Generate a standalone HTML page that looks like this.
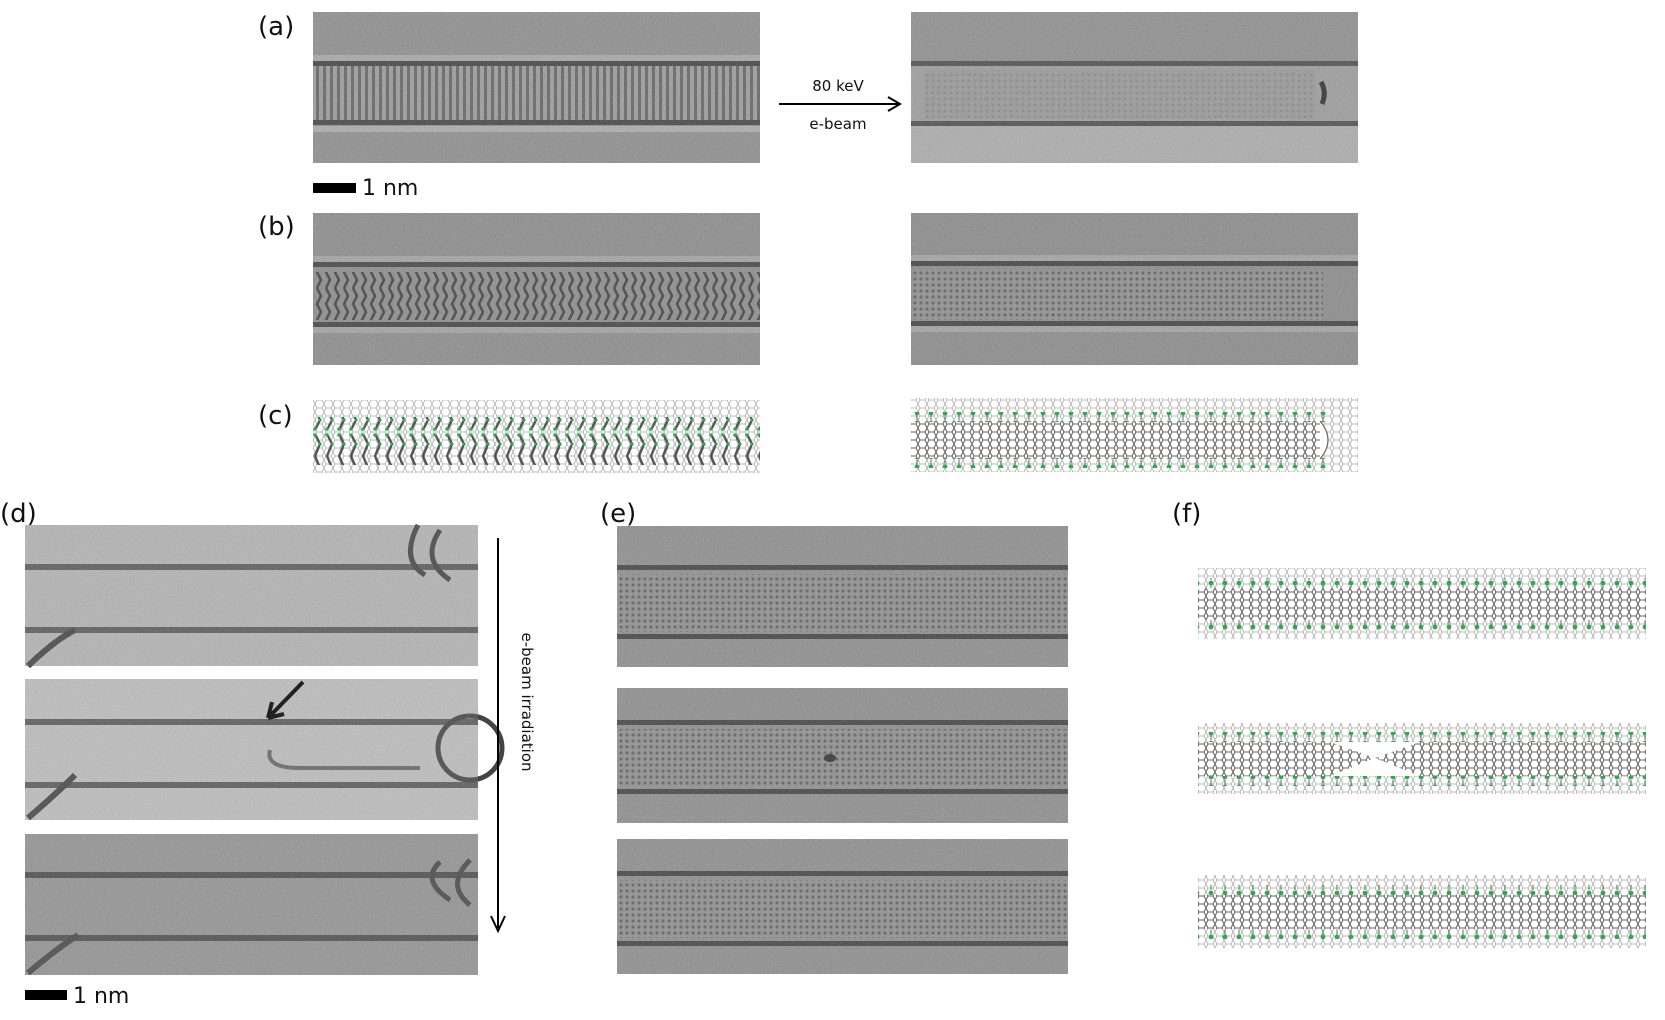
<!DOCTYPE html>
<html><head><meta charset="utf-8"><style>
html,body{margin:0;padding:0;background:#fff;width:1665px;height:1020px;overflow:hidden}
svg{display:block}
text{font-family:"DejaVu Sans","Liberation Sans",sans-serif;fill:#111}
</style></head><body>
<svg width="1665" height="1020" viewBox="0 0 1665 1020" xmlns="http://www.w3.org/2000/svg">
<defs>
<filter id="nz" x="0" y="0" width="100%" height="100%">
<feTurbulence type="fractalNoise" baseFrequency="0.9" numOctaves="2" seed="4"/>
<feColorMatrix type="matrix" values="1 0 0 0 0  1 0 0 0 0  1 0 0 0 0  0 0 0 0 1"/>
</filter>
<pattern id="vs" width="7" height="60" patternUnits="userSpaceOnUse"><rect width="7" height="60" fill="#9a9a9a"/><rect x="1" width="3" height="60" fill="#5e5e5e"/></pattern>
<pattern id="zz" width="9" height="48" patternUnits="userSpaceOnUse"><rect width="9" height="48" fill="#8a8a8a"/><path d="M2 0 L6 8 L2 16 L6 24 L2 32 L6 40 L2 48" stroke="#3a3a3a" stroke-width="2.6" fill="none"/></pattern>
<pattern id="lat" width="6" height="6" patternUnits="userSpaceOnUse"><rect width="6" height="6" fill="#8e8e8e"/><circle cx="3" cy="3" r="1.6" fill="#5a5a5a"/></pattern>
<pattern id="hex" width="9" height="8" patternUnits="userSpaceOnUse"><path d="M0 4 L2 0 L7 0 L9 4 L7 8 L2 8 Z" fill="none" stroke="#a8a8a8" stroke-width="0.8"/></pattern>
<pattern id="hexd" width="9" height="8" patternUnits="userSpaceOnUse"><rect width="9" height="8" fill="#fff"/><path d="M0 4 L2 0 L7 0 L9 4 L7 8 L2 8 Z" fill="none" stroke="#6a6a6a" stroke-width="1.1"/></pattern>
<pattern id="grn" width="14" height="10" patternUnits="userSpaceOnUse"><path d="M7 3 V10" stroke="#666" stroke-width="1"/><circle cx="7" cy="3" r="2.4" fill="#2fa84f"/></pattern>
<pattern id="grnb" width="14" height="10" patternUnits="userSpaceOnUse"><path d="M7 0 V7" stroke="#666" stroke-width="1"/><circle cx="7" cy="7" r="2.4" fill="#2fa84f"/></pattern>
<pattern id="cz" width="12" height="48" patternUnits="userSpaceOnUse"><path d="M3 2 L8 12 L3 24 L8 36 L3 46" stroke="#555" stroke-width="2.4" fill="none"/><circle cx="3" cy="3" r="1.8" fill="#2fa84f"/><circle cx="8" cy="12" r="1.6" fill="#2fa84f"/><circle cx="8" cy="36" r="1.6" fill="#2fa84f"/><circle cx="3" cy="45" r="1.8" fill="#2fa84f"/></pattern>
</defs>

<text x="258" y="35" font-size="26">(a)</text>
<text x="258" y="235" font-size="26">(b)</text>
<text x="258" y="424" font-size="26">(c)</text>
<text x="0" y="522" font-size="26">(d)</text>
<text x="600" y="522" font-size="26">(e)</text>
<text x="1172" y="522" font-size="26">(f)</text>

<!-- (a) left -->
<rect x="313" y="12" width="447" height="151" fill="#8c8c8c"/>
<rect x="313" y="55" width="447" height="6" fill="#a8a8a8"/>
<rect x="313" y="66" width="447" height="54" fill="url(#vs)"/>
<rect x="313" y="61" width="447" height="5" fill="#3c3c3c"/>
<rect x="313" y="120" width="447" height="5" fill="#3c3c3c"/>
<rect x="313" y="126" width="447" height="6" fill="#acacac"/>
<rect x="313" y="12" width="447" height="151" filter="url(#nz)" opacity="0.22"/>
<line x1="779" y1="104" x2="898" y2="104" stroke="#000" stroke-width="2"/>
<path d="M888 97 L900 104 L888 111" fill="none" stroke="#000" stroke-width="2"/>
<text x="838" y="91" font-size="15" text-anchor="middle">80 keV</text>
<text x="838" y="129" font-size="15" text-anchor="middle">e-beam</text>
<!-- (a) right -->
<rect x="911" y="12" width="447" height="151" fill="#8e8e8e"/>
<rect x="911" y="64" width="447" height="58" fill="#9c9c9c"/>
<rect x="911" y="125" width="447" height="38" fill="#acacac"/>
<rect x="911" y="61" width="447" height="5" fill="#4a4a4a"/>
<rect x="911" y="121" width="447" height="5" fill="#4a4a4a"/>
<path d="M1321 82 Q1327 92 1322 104" stroke="#2a2a2a" stroke-width="5" fill="none"/>
<rect x="925" y="70" width="390" height="48" fill="url(#lat)" opacity="0.3"/>
<rect x="911" y="12" width="447" height="151" filter="url(#nz)" opacity="0.2"/>
<rect x="313" y="183" width="43" height="10" fill="#000"/>
<text x="362" y="195" font-size="22">1 nm</text>

<!-- (b) left -->
<rect x="313" y="213" width="447" height="152" fill="#8a8a8a"/>
<rect x="313" y="256" width="447" height="6" fill="#a2a2a2"/>
<rect x="313" y="262" width="447" height="5" fill="#3c3c3c"/>
<rect x="313" y="272" width="447" height="48" fill="url(#zz)"/>
<rect x="313" y="322" width="447" height="5" fill="#3c3c3c"/>
<rect x="313" y="327" width="447" height="6" fill="#a2a2a2"/>
<rect x="313" y="213" width="447" height="152" filter="url(#nz)" opacity="0.22"/>
<!-- (b) right -->
<rect x="911" y="213" width="447" height="152" fill="#888"/>
<rect x="911" y="255" width="447" height="6" fill="#a2a2a2"/>
<rect x="911" y="261" width="447" height="5" fill="#3a3a3a"/>
<rect x="913" y="270" width="410" height="50" fill="url(#lat)"/>
<rect x="911" y="321" width="447" height="5" fill="#3a3a3a"/>
<rect x="911" y="326" width="447" height="6" fill="#a2a2a2"/>
<rect x="911" y="213" width="447" height="152" filter="url(#nz)" opacity="0.22"/>

<!-- (c) -->
<rect x="313" y="400" width="447" height="73" fill="url(#hex)"/>
<rect x="313" y="417" width="447" height="48" fill="url(#cz)"/>
<rect x="911" y="398" width="447" height="74" fill="url(#hex)"/>
<rect x="911" y="421" width="410" height="38" fill="url(#hexd)"/>
<path d="M1320 421 Q1336 440 1320 459" fill="#fff" stroke="#6a6a6a" stroke-width="1.2"/>
<rect x="911" y="412" width="415" height="10" fill="url(#grn)"/>
<rect x="911" y="458" width="415" height="10" fill="url(#grnb)"/>

<!-- (d) -->
<rect x="25" y="525" width="453" height="141" fill="#b4b4b4"/>
<rect x="25" y="564" width="453" height="6" fill="#5a5a5a"/>
<rect x="25" y="627" width="453" height="6" fill="#5a5a5a"/>
<path d="M418 525 Q400 560 425 575 M440 530 Q420 560 450 580" stroke="#444" stroke-width="5" fill="none"/>
<path d="M28 666 Q55 640 75 630" stroke="#444" stroke-width="6" fill="none"/>
<rect x="25" y="525" width="453" height="141" filter="url(#nz)" opacity="0.18"/>

<rect x="25" y="679" width="453" height="141" fill="#bebebe"/>
<rect x="25" y="719" width="453" height="6" fill="#5a5a5a"/>
<rect x="25" y="782" width="453" height="6" fill="#5a5a5a"/>
<path d="M270 750 Q265 768 300 768 L420 768" stroke="#666" stroke-width="4" fill="none"/>
<circle cx="470" cy="748" r="32" fill="none" stroke="#444" stroke-width="5"/>
<path d="M28 818 Q55 795 75 775" stroke="#444" stroke-width="6" fill="none"/>
<path d="M303 682 L268 718 M268 718 L272 702 M268 718 L284 714" stroke="#000" stroke-width="4" fill="none"/>
<rect x="25" y="679" width="453" height="141" filter="url(#nz)" opacity="0.18"/>

<rect x="25" y="834" width="453" height="141" fill="#929292"/>
<rect x="25" y="872" width="453" height="6" fill="#4a4a4a"/>
<rect x="25" y="935" width="453" height="6" fill="#4a4a4a"/>
<path d="M440 862 Q420 880 450 900 M470 860 Q445 885 470 905" stroke="#444" stroke-width="5" fill="none"/>
<path d="M28 973 Q55 950 78 935" stroke="#444" stroke-width="6" fill="none"/>
<rect x="25" y="834" width="453" height="141" filter="url(#nz)" opacity="0.2"/>

<line x1="498" y1="538" x2="498" y2="928" stroke="#000" stroke-width="2"/>
<path d="M491 916 L498 931 L505 916" fill="none" stroke="#000" stroke-width="2"/>
<text x="0" y="0" font-size="15" transform="translate(522 702) rotate(90)" text-anchor="middle">e-beam irradiation</text>
<rect x="25" y="990" width="42" height="10" fill="#000"/>
<text x="73" y="1003" font-size="22">1 nm</text>

<!-- (e) -->
<rect x="617" y="526" width="451" height="141" fill="#8c8c8c"/>
<rect x="617" y="565" width="451" height="5" fill="#3c3c3c"/>
<rect x="617" y="574" width="451" height="58" fill="url(#lat)"/>
<rect x="617" y="634" width="451" height="5" fill="#3c3c3c"/>
<rect x="617" y="526" width="451" height="141" filter="url(#nz)" opacity="0.22"/>

<rect x="617" y="688" width="451" height="135" fill="#8c8c8c"/>
<rect x="617" y="720" width="451" height="5" fill="#3c3c3c"/>
<rect x="617" y="729" width="451" height="58" fill="url(#lat)"/>
<rect x="617" y="789" width="451" height="5" fill="#3c3c3c"/>
<ellipse cx="830" cy="758" rx="6" ry="4" fill="#2a2a2a"/>
<rect x="617" y="688" width="451" height="135" filter="url(#nz)" opacity="0.22"/>

<rect x="617" y="839" width="451" height="135" fill="#8c8c8c"/>
<rect x="617" y="871" width="451" height="5" fill="#3c3c3c"/>
<rect x="617" y="880" width="451" height="58" fill="url(#lat)"/>
<rect x="617" y="941" width="451" height="5" fill="#3c3c3c"/>
<rect x="617" y="839" width="451" height="135" filter="url(#nz)" opacity="0.22"/>

<!-- (f) -->
<rect x="1198" y="568" width="448" height="71" fill="url(#hex)"/>
<rect x="1198" y="588" width="448" height="32" fill="url(#hexd)"/>
<rect x="1198" y="578" width="448" height="10" fill="url(#grn)"/>
<rect x="1198" y="620" width="448" height="10" fill="url(#grnb)"/>

<rect x="1198" y="723" width="448" height="71" fill="url(#hex)"/>
<rect x="1198" y="742" width="448" height="34" fill="url(#hexd)"/>
<path d="M1330 742 L1375 758 L1420 742 Z M1330 776 L1375 758 L1420 776 Z" fill="#fff"/>
<rect x="1198" y="732" width="448" height="10" fill="url(#grn)"/>
<rect x="1198" y="776" width="448" height="10" fill="url(#grnb)"/>

<rect x="1198" y="875" width="448" height="73" fill="url(#hex)"/>
<rect x="1198" y="895" width="448" height="34" fill="url(#hexd)"/>
<rect x="1198" y="885" width="448" height="10" fill="url(#grn)"/>
<rect x="1198" y="929" width="448" height="10" fill="url(#grnb)"/>
</svg>
</body></html>
